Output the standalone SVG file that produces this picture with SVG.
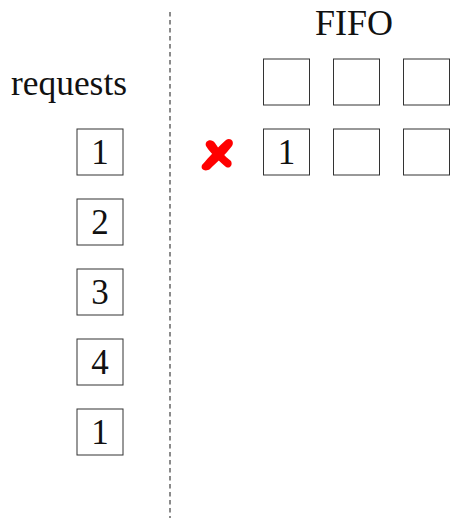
<svg xmlns="http://www.w3.org/2000/svg" width="450" height="518" viewBox="0 0 450 518">
<style>
.box{fill:#fff;stroke:#333;stroke-width:1}
.t{font-family:"Liberation Serif","DejaVu Serif",serif;font-size:35px;fill:#111;text-anchor:middle}
</style>
<rect width="450" height="518" fill="#fff"/>
<g id="connectors">
<line x1="170" y1="12" x2="170" y2="518" stroke="#666" stroke-width="1.5" stroke-dasharray="4.5 3.5"/>
</g>
<text class="t" x="69" y="95" textLength="116" lengthAdjust="spacingAndGlyphs">requests</text>
<text class="t" x="354" y="35" textLength="78" lengthAdjust="spacingAndGlyphs">FIFO</text>
<g id="req1"><rect class="box" x="77" y="129" width="46" height="46"/><text class="t" x="100" y="164">1</text></g>
<g id="req2"><rect class="box" x="77" y="199" width="46" height="46"/><text class="t" x="100" y="234">2</text></g>
<g id="req3"><rect class="box" x="77" y="269" width="46" height="46"/><text class="t" x="100" y="304">3</text></g>
<g id="req4"><rect class="box" x="77" y="339" width="46" height="46"/><text class="t" x="100" y="374">4</text></g>
<g id="req5"><rect class="box" x="77" y="409" width="46" height="46"/><text class="t" x="100" y="444">1</text></g>
<g id="fifo-top-1"><rect class="box" x="263.5" y="59" width="46" height="46"/></g>
<g id="fifo-top-2"><rect class="box" x="333.5" y="59" width="46" height="46"/></g>
<g id="fifo-top-3"><rect class="box" x="403.5" y="59" width="46" height="46"/></g>
<g id="fifo-bot-1"><rect class="box" x="263.5" y="129" width="46" height="46"/><text class="t" x="286.5" y="164">1</text></g>
<g id="fifo-bot-2"><rect class="box" x="333.5" y="129" width="46" height="46"/></g>
<g id="fifo-bot-3"><rect class="box" x="403.5" y="129" width="46" height="46"/></g>
<g id="cross" fill="#f00">
<path d="M202,165 C209,157 219,146 226,140 C230,137 235,141 232,146 C226,154 216,163 210,169 C206,172 200,170 202,165 Z"/>
<path d="M206,146 C204,140 212,138 215,143 C219,149 224,156 231,161 C233,165 230,169 226,167 C219,161 211,154 206,146 Z"/>
</g>
</svg>
